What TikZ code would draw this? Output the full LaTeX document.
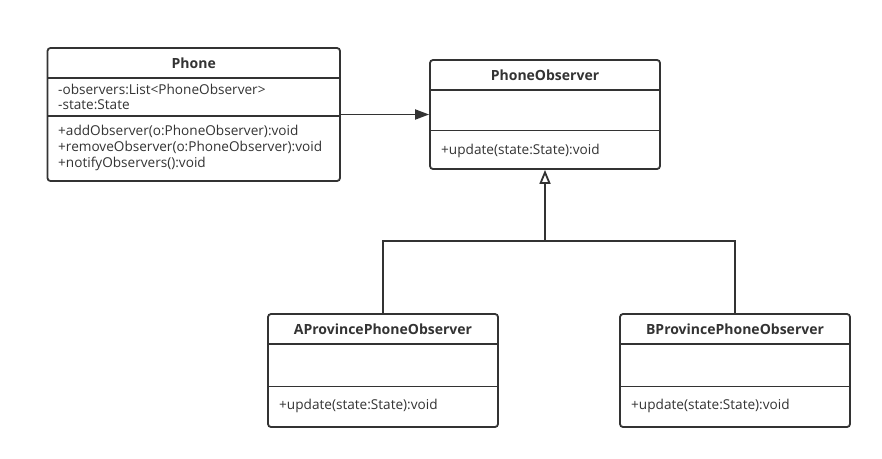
\documentclass[tikz,border=0pt]{standalone}
\usepackage{fontspec}
\setmainfont{Open Sans}
\usetikzlibrary{arrows.meta}
\definecolor{ink}{HTML}{333333}
\tikzset{
  umlbox/.style={draw=ink, line width=1.8pt, rounded corners=3pt, fill=white, inner sep=0pt},
  sepline/.style={draw=ink, line width=1.8pt},
  conn/.style={draw=ink, line width=1.8pt},
  ttl/.style={font=\fontsize{14}{16}\selectfont\bfseries, text=ink, inner sep=0pt},
  mem/.style={font=\fontsize{13.6}{16}\selectfont, text=ink, inner sep=0pt, anchor=west},
}
\begin{document}
\begin{tikzpicture}[x=1pt,y=-1pt]
\useasboundingbox (0,0) rectangle (882,458);
% Phone
\node[umlbox, minimum width=292.5pt, minimum height=133pt] (phone) at (193.75,114.5) {};
\draw[sepline] (47.5,78) -- (340,78);
\draw[sepline] (47.5,116) -- (340,116);
\node[ttl] (phoneT) at (193.75,63.5) {Phone};
\node[mem] (p1) at (58,89.5) {-observers:List<PhoneObserver>};
\node[mem] (p2) at (58,105) {-state:State};
\node[mem] (p3) at (58,131.5) {+addObserver(o:PhoneObserver):void};
\node[mem] (p4) at (58,147.5) {+removeObserver(o:PhoneObserver):void};
\node[mem] (p5) at (58,164) {+notifyObservers():void};
% PhoneObserver
\node[umlbox, minimum width=230pt, minimum height=109pt] (obs) at (545,114.5) {};
\draw[sepline] (430,90) -- (660,90);
\draw[sepline] (430,130.5) -- (660,130.5);
\node[ttl] (obsT) at (545,75) {PhoneObserver};
\node[mem] (o1) at (441,150.5) {+update(state:State):void};
% A
\node[umlbox, minimum width=230pt, minimum height=113pt] (a) at (383,370.5) {};
\draw[sepline] (268,344) -- (498,344);
\draw[sepline] (268,386.5) -- (498,386.5);
\node[ttl] (aT) at (383,329) {AProvincePhoneObserver};
\node[mem] (a1) at (279,406) {+update(state:State):void};
% B
\node[umlbox, minimum width=230pt, minimum height=113pt] (b) at (735,370.5) {};
\draw[sepline] (620,344) -- (850,344);
\draw[sepline] (620,386.5) -- (850,386.5);
\node[ttl] (bT) at (735,329) {BProvincePhoneObserver};
\node[mem] (b1) at (631,406) {+update(state:State):void};
% connectors
\draw[conn, -{Triangle[length=14pt,width=10pt]}] (phone.east) -- (obs.west);
\coordinate (j) at (545,241);
\draw[conn] (a.north) |- (j) -| (b.north);
\draw[conn, -{Triangle[open,length=14pt,width=11pt]}] (j) -- (obs.south);
\end{tikzpicture}
\end{document}
